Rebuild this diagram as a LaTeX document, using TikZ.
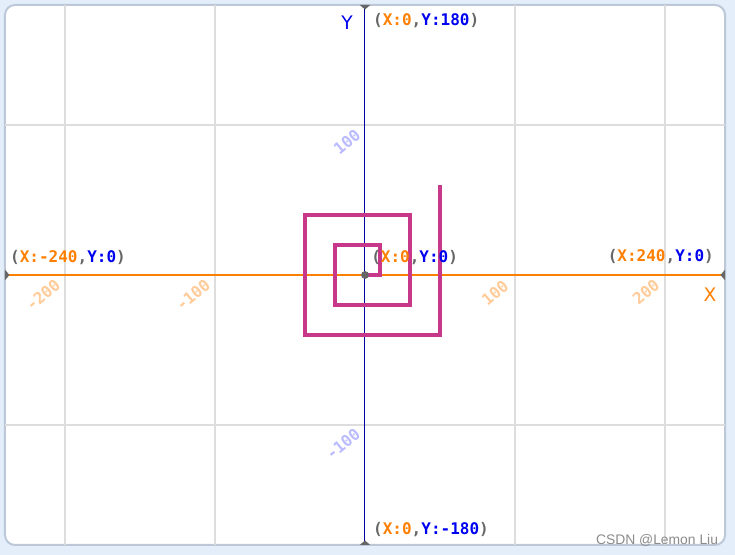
\documentclass[tikz,border=0pt]{standalone}
\usepackage{fontspec}
\newfontfamily\pixfont{DejaVu Sans Mono}
\setsansfont{DejaVu Sans}
\newfontfamily\wmfont{Liberation Sans}
\usetikzlibrary{positioning}
\definecolor{stagebg}{HTML}{E4EEFB}
\definecolor{stageln}{HTML}{BCC8D8}
\definecolor{gridln}{HTML}{DDDDDD}
\definecolor{porange}{HTML}{FF7F00}
\definecolor{pblue}{HTML}{0000F0}
\definecolor{pgray}{HTML}{666666}
\definecolor{yaxis}{HTML}{0000A0}
\definecolor{pen}{HTML}{C8388A}
\definecolor{tickx}{HTML}{FFCC99}
\definecolor{ticky}{HTML}{BBBBFF}
\newcommand\xylab[2]{\textcolor{pgray}{(}\textcolor{porange}{X:#1}\textcolor{pgray}{,}\textcolor{pblue}{Y:#2}\textcolor{pgray}{)}}

\begin{document}
\begin{tikzpicture}[x=1.125pt,y=1.125pt,
  lab/.style={font=\pixfont\bfseries\fontsize{12}{12}\selectfont, inner sep=0pt},
  axlab/.style={font=\sffamily\fontsize{14}{14}\selectfont, inner sep=0pt},
  tk/.style={font=\pixfont\bfseries\fontsize{12}{12}\selectfont, inner sep=0pt, rotate=40},
  tri/.style={fill=pgray}]
  \fill[stagebg] (-243.33,-186.67) rectangle (246.67,183.33);
  \useasboundingbox (-243.33,-186.67) rectangle (246.67,183.33);
  \filldraw[fill=white, draw=stageln, line width=1.5pt, rounded corners=7.5pt] (-240,-180) rectangle (240,180);
  \foreach \i in {-200,-100,100,200}
    \draw[gridln, line width=1pt] (\i,-180) -- (\i,180);
  \foreach \j in {-100,100}
    \draw[gridln, line width=1pt] (-240,\j) -- (240,\j);
  \coordinate (O) at (0,0);
  \coordinate (W) at (-240,0);
  \coordinate (E) at (240,0);
  \coordinate (N) at (0,180);
  \coordinate (S) at (0,-180);
  \draw[porange, line width=1.5pt] (W) -- (E);
  \draw[yaxis, line width=0.75pt] (S) -- (N);
  \fill[tri] (N) ++(-3.5,0) -- ++(7,0) -- ++(-3.5,-3) -- cycle;
  \fill[tri] (S) ++(-3.5,0) -- ++(7,0) -- ++(-3.5,3) -- cycle;
  \fill[tri] (W) ++(0,-3.5) -- ++(0,7) -- ++(3,-3.5) -- cycle;
  \fill[tri] (E) ++(0,-3.5) -- ++(0,7) -- ++(-3,-3.5) -- cycle;
  \draw[pen, line width=2.3pt] (O) -- (10,0) -- (10,20) -- (-20,20) -- (-20,-20) -- (30,-20)
    -- (30,40) -- (-40,40) -- (-40,-40) -- (50,-40) -- (50,60);
  \fill[pgray] (O) circle (2.6);
  \node[lab, anchor=west] (top) at (5.3,169.3) {\xylab{0}{180}};
  \node[lab, anchor=west] (bot) at (5.3,-170) {\xylab{0}{-180}};
  \node[lab, anchor=west] (mid) at (4,11.3) {\xylab{0}{0}};
  \node[lab, anchor=west] (lft) at (-236.7,11.3) {\xylab{-240}{0}};
  \node[lab, anchor=east] (rgt) at (232.7,12) {\xylab{240}{0}};
  \node[axlab, text=pblue] (ylab) at (-12,168) {Y};
  \node[axlab, text=porange] (xlab) at (230,-13.3) {X};
  \node[tk, text=ticky] (y100) at (-12,88.7) {100};
  \node[tk, text=ticky] (ym100) at (-14.7,-112.7) {-100};
  \node[tk, text=tickx] (xm200) at (-214.7,-13.3) {-200};
  \node[tk, text=tickx] (xm100) at (-114.7,-13.3) {-100};
  \node[tk, text=tickx] (x100) at (86.7,-12) {100};
  \node[tk, text=tickx] (x200) at (187.3,-11.3) {200};
  \node[font=\wmfont\fontsize{10.4}{10.4}\selectfont, text=black!45, inner sep=0pt] (wm) at (194.7,-176.7) {CSDN @Lemon Liu};
\end{tikzpicture}
\end{document}
